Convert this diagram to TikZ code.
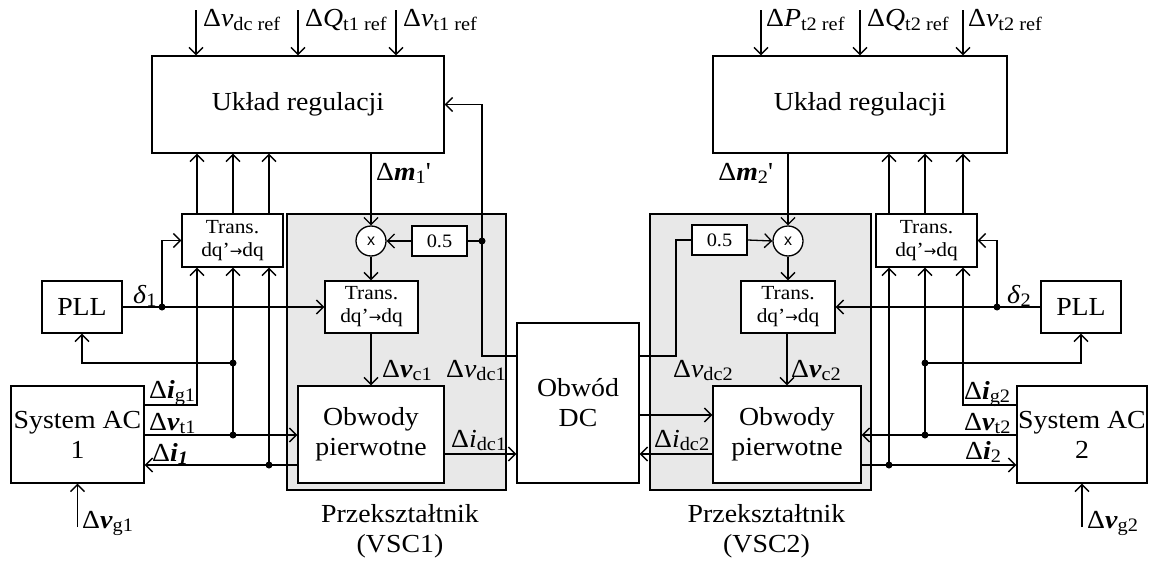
\documentclass[tikz,border=0pt]{standalone}
\usepackage{fontspec}
\setmainfont[FakeStretch=1.07]{Liberation Serif}
\newfontfamily\sansx{Liberation Sans}
\newfontfamily\arrfont{DejaVu Sans}
\usetikzlibrary{arrows.meta}
\definecolor{vscgray}{RGB}{232,232,232}
\newcommand\sbs[1]{\raisebox{-0.3ex}{\fontsize{19}{19}\selectfont #1}}
\newcommand\bi[1]{\textbf{\textit{#1}}}
\newcommand\itl[1]{\textit{#1}}
\newcommand\dqarrow{dq’{\arrfont\fontsize{15}{15}\selectfont →}dq}
\begin{document}
\begin{tikzpicture}[x=1pt,y=-1pt,
  box/.style={draw, line width=1.4pt, fill=white, inner sep=0pt, align=center, font=\fontsize{26}{30}\selectfont},
  sbox/.style={box, font=\fontsize{20}{23}\selectfont},
  hbox/.style={box, font=\fontsize{19}{23}\selectfont},
  lbl/.style={inner sep=0pt, font=\fontsize{26}{30}\selectfont},
  con/.style={line width=1.3pt},
  arr/.style={con, -{Straight Barb[length=7pt,width=14pt]}},
  dot/.style={circle, fill=black, inner sep=0pt, minimum size=7pt},
  grp/.style={draw, line width=1.4pt, fill=vscgray},
  mul/.style={circle, draw, line width=1.3pt, fill=white, minimum size=30pt, inner sep=0pt, font=\sansx\fontsize{16}{16}\selectfont}
]
\useasboundingbox (0,0) rectangle (1149,562);
% converter groups
\draw[grp] (287,214) rectangle (506,490);
\draw[grp] (650,214) rectangle (871,490);

% coordinates
\coordinate (xa) at (197,0); \coordinate (xb) at (233,0); \coordinate (xc) at (269,0);
\coordinate (xd) at (889,0); \coordinate (xe) at (925,0); \coordinate (xf) at (963,0);
\coordinate (y405) at (0,405); \coordinate (y435) at (0,435); \coordinate (y465) at (0,465);
\coordinate (y363) at (0,363); \coordinate (y454) at (0,454); \coordinate (y415) at (0,415);
\coordinate (y356) at (0,356);
\coordinate (fb1) at (482,0); \coordinate (fb2) at (676,0);
\coordinate (j1) at (162,307); \coordinate (j2) at (997,307);
\coordinate (i1) at (196,10); \coordinate (i2) at (298,10); \coordinate (i3) at (396,10);
\coordinate (i4) at (761,10); \coordinate (i5) at (860,10); \coordinate (i6) at (963,10);
\coordinate (g1) at (77.5,527); \coordinate (g2) at (1082,527);

% nodes
\node[box, minimum width=292pt, minimum height=97pt] (reg1) at (298,104.5) {Układ regulacji};
\node[box, minimum width=294pt, minimum height=97pt] (reg2) at (860,104.5) {Układ regulacji};
\node[sbox, minimum width=101pt, minimum height=53pt] (tr1) at (232.5,240.5) {Trans.\\\dqarrow};
\node[sbox, minimum width=93pt, minimum height=52pt] (tr2) at (371.5,307) {Trans.\\\dqarrow};
\node[sbox, minimum width=94pt, minimum height=52pt] (tr3) at (788,307) {Trans.\\\dqarrow};
\node[sbox, minimum width=101pt, minimum height=53pt] (tr4) at (926.5,240.5) {Trans.\\\dqarrow};
\node[mul] (m1) at (371,241) {x};
\node[mul] (m2) at (788,241) {x};
\node[hbox, minimum width=55pt, minimum height=30pt] (h1) at (439.5,241) {0.5};
\node[hbox, minimum width=55pt, minimum height=30pt] (h2) at (719.5,240) {0.5};
\node[box, minimum width=80pt, minimum height=52pt] (pll1) at (82,307) {PLL};
\node[box, minimum width=80pt, minimum height=52pt] (pll2) at (1081,307) {PLL};
\node[box, minimum width=133pt, minimum height=97pt] (ac1) at (77.5,434.5) {System AC\\1};
\node[box, minimum width=130pt, minimum height=97pt] (ac2) at (1082,434.5) {System AC\\2};
\node[box, minimum width=146pt, minimum height=97pt] (ob1) at (371,434.5) {Obwody\\pierwotne};
\node[box, minimum width=148pt, minimum height=97pt] (ob2) at (787,434.5) {Obwody\\pierwotne};
\node[box, minimum width=122pt, minimum height=160pt] (dc) at (578,403) {Obwód\\DC};

% reference inputs
\foreach \c in {i1,i2,i3} \draw[arr] (\c) -- (\c |- reg1.north);
\foreach \c in {i4,i5,i6} \draw[arr] (\c) -- (\c |- reg2.north);

% left side
\foreach \c in {xa,xb,xc} \draw[arr] (tr1.north -| \c) -- (reg1.south -| \c);
\draw[arr] (ac1.east |- y405) -| (tr1.south -| xa);
\draw[arr] (ac1.east |- y435) -- (ob1.west |- y435);
\draw[arr] (xb |- y435) -- (tr1.south -| xb);
\draw[arr] (xb |- y363) -| (pll1.south);
\draw[arr] (ob1.west |- y465) -- (ac1.east |- y465);
\draw[arr] (xc |- y465) -- (tr1.south -| xc);
\draw[arr] (pll1.east) -- (tr2.west);
\draw[arr] (j1) |- (tr1.west);
\draw[arr] (reg1.south -| m1) -- (m1.north);
\draw[arr] (m1.south) -- (m1 |- tr2.north);
\draw[arr] (tr2.south -| ob1) -- (ob1.north);
\draw[arr] (h1.west) -- (m1.east);
\draw[arr] (dc.west |- y356) -| (fb1 |- reg1.east) -- (reg1.east);
\draw[con] (fb1 |- h1.east) -- (h1.east);
\draw[arr] (ob1.east |- y454) -- (dc.west |- y454);
\draw[arr] (g1) -- (ac1.south);

% right side
\foreach \c in {xd,xe,xf} \draw[arr] (tr4.north -| \c) -- (reg2.south -| \c);
\draw[arr] (ac2.west |- y405) -| (tr4.south -| xf);
\draw[arr] (ac2.west |- y435) -- (ob2.east |- y435);
\draw[arr] (xe |- y435) -- (tr4.south -| xe);
\draw[arr] (xe |- y363) -| (pll2.south);
\draw[arr] (ob2.east |- y465) -- (ac2.west |- y465);
\draw[arr] (xd |- y465) -- (tr4.south -| xd);
\draw[arr] (pll2.west) -- (tr3.east);
\draw[arr] (j2) |- (tr4.east);
\draw[arr] (reg2.south -| m2) -- (m2.north);
\draw[arr] (m2.south) -- (m2 |- tr3.north);
\draw[arr] (tr3.south -| ob2) -- (ob2.north);
\draw[arr] (h2.east) -- (m2.west);
\draw[con] (dc.east |- y356) -| (fb2 |- h2.west) -- (h2.west);
\draw[arr] (dc.east |- y415) -- (ob2.west |- y415);
\draw[arr] (ob2.west |- y454) -- (dc.east |- y454);
\draw[arr] (g2) -- (ac2.south);

% junction dots
\node[dot] (d1) at (j1) {};
\node[dot] (d2) at (xb |- y363) {};
\node[dot] (d3) at (xb |- y435) {};
\node[dot] (d4) at (xc |- y465) {};
\node[dot] (d5) at (fb1 |- h1.east) {};
\node[dot] (d6) at (j2) {};
\node[dot] (d7) at (xe |- y363) {};
\node[dot] (d8) at (xe |- y435) {};
\node[dot] (d9) at (xd |- y465) {};

% labels
\node[lbl, anchor=base west] (t1) at (203,27) {Δ\itl{v}\sbs{dc ref}};
\node[lbl, anchor=base west] (t2) at (305,27) {Δ\itl{Q}\sbs{t1 ref}};
\node[lbl, anchor=base west] (t3) at (403,27) {Δ\itl{v}\sbs{t1 ref}};
\node[lbl, anchor=base west] (t4) at (766,27) {Δ\itl{P}\sbs{t2 ref}};
\node[lbl, anchor=base west] (t5) at (867,27) {Δ\itl{Q}\sbs{t2 ref}};
\node[lbl, anchor=base west] (t6) at (968,27) {Δ\itl{v}\sbs{t2 ref}};
\node[lbl, anchor=base west] (lm1) at (376,180) {Δ\bi{m}\sbs{1}\textquotesingle};
\node[lbl, anchor=base east] (lm2) at (773,180) {Δ\bi{m}\sbs{2}\textquotesingle};
\node[lbl, anchor=base west] (ld1) at (133,303) {\itl{δ}\sbs{1}};
\node[lbl, anchor=base west] (ld2) at (1007,303) {\itl{δ}\sbs{2}};
\node[lbl, anchor=base west] (lig1) at (149,398) {Δ\bi{i}\sbs{g1}};
\node[lbl, anchor=base west] (lvt1) at (149,430) {Δ\bi{v}\sbs{t1}};
\node[lbl, anchor=base west] (li1) at (152,461) {Δ\bi{i}\sbs{\bi{1}}};
\node[lbl, anchor=base west] (lvg1) at (82,528) {Δ\bi{v}\sbs{g1}};
\node[lbl, anchor=base west] (lvc1) at (382,377) {Δ\bi{v}\sbs{c1}};
\node[lbl, anchor=base west] (lvdc1) at (446,377) {Δ\itl{v}\sbs{dc1}};
\node[lbl, anchor=base west] (lidc1) at (451,447) {Δ\itl{i}\sbs{dc1}};
\node[lbl, anchor=base west] (lidc2) at (654,447) {Δ\itl{i}\sbs{dc2}};
\node[lbl, anchor=base west] (lvdc2) at (673,377) {Δ\itl{v}\sbs{dc2}};
\node[lbl, anchor=base west] (lvc2) at (791,377) {Δ\bi{v}\sbs{c2}};
\node[lbl, anchor=base west] (lig2) at (964,399) {Δ\bi{i}\sbs{g2}};
\node[lbl, anchor=base west] (lvt2) at (964,430) {Δ\bi{v}\sbs{t2}};
\node[lbl, anchor=base west] (li2) at (965,459) {Δ\bi{i}\sbs{2}};
\node[lbl, anchor=base west] (lvg2) at (1087,528) {Δ\bi{v}\sbs{g2}};
\node[lbl, align=center] (vsc1) at (400,531) {Przekształtnik\\(VSC1)};
\node[lbl, align=center] (vsc2) at (766.5,531) {Przekształtnik\\(VSC2)};
\end{tikzpicture}
\end{document}
